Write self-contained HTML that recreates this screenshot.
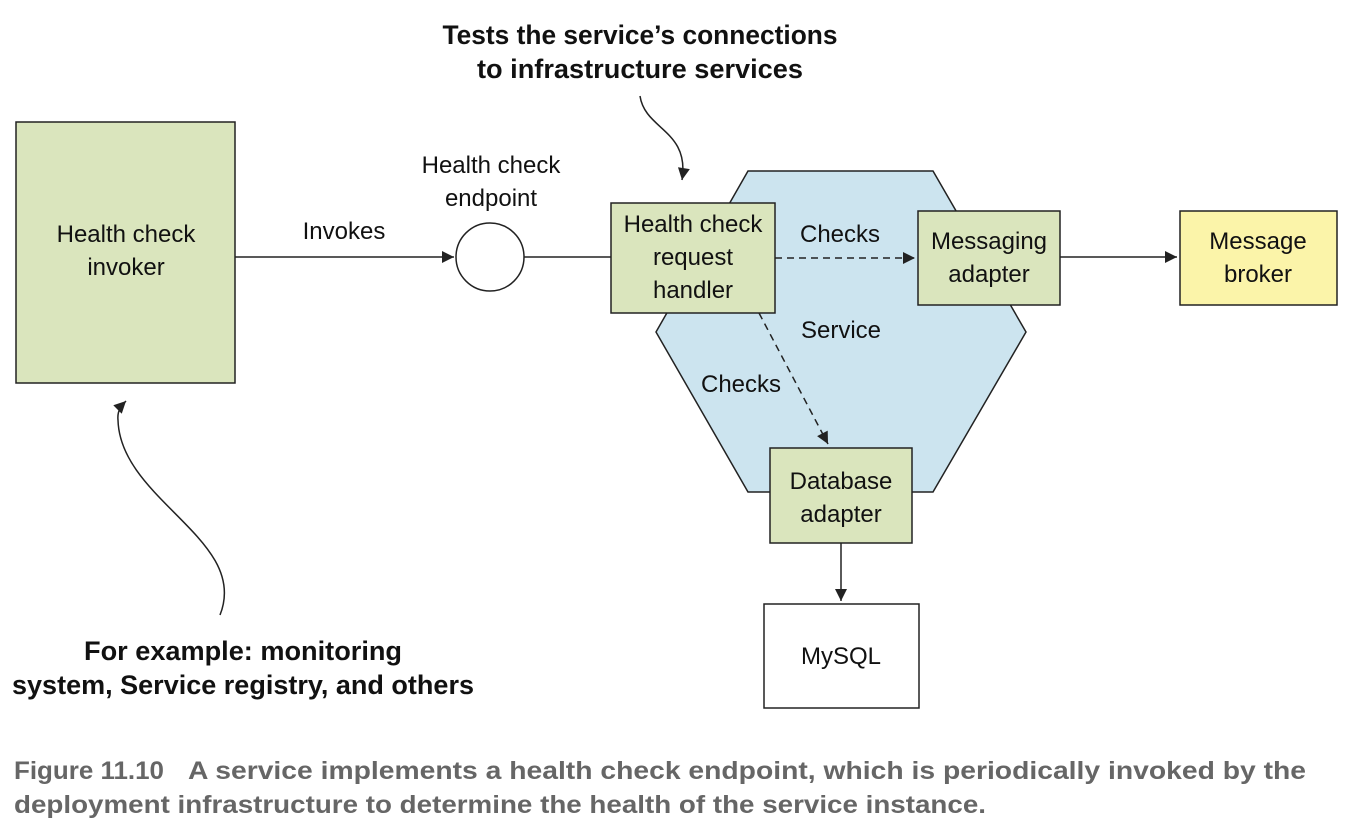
<!DOCTYPE html>
<html><head><style>body{margin:0;background:#fff}svg{display:block}</style></head><body>
<svg width="1354" height="832" viewBox="0 0 1354 832" xmlns="http://www.w3.org/2000/svg" font-family="Liberation Sans, Arial, sans-serif">
<defs>
<marker id="b" viewBox="0 0 10 10" refX="10" refY="5" markerWidth="18" markerHeight="12" markerUnits="userSpaceOnUse" orient="auto"><path d="M0,0 L10,5 L0,10 z" fill="#222"/></marker>
</defs>
<polygon points="748,171 933,171 1026,332 933,492 748,492 656,332" fill="#cce4ef" stroke="#222" stroke-width="1.5"/>
<g stroke="#222" stroke-width="1.5">
<rect x="16" y="122" width="219" height="261" fill="#dae5bd"/>
<rect x="611" y="203" width="164" height="110" fill="#dae5bd"/>
<rect x="918" y="211" width="142" height="94" fill="#dae5bd"/>
<rect x="1180" y="211" width="157" height="94" fill="#fbf4a9"/>
<rect x="770" y="448" width="142" height="95" fill="#dae5bd"/>
<rect x="764" y="604" width="155" height="104" fill="#fff"/>
<circle cx="490" cy="257" r="34" fill="#fff"/>
<line x1="235" y1="257" x2="454" y2="257" marker-end="url(#b)"/>
<line x1="524" y1="257" x2="611" y2="257"/>
<line x1="775" y1="258" x2="915" y2="258" stroke-dasharray="7,5" marker-end="url(#b)"/>
<line x1="759" y1="313" x2="828" y2="444" stroke-dasharray="7,5" marker-end="url(#b)"/>
<line x1="1060" y1="257" x2="1177" y2="257" marker-end="url(#b)"/>
<line x1="841" y1="543" x2="841" y2="601" marker-end="url(#b)"/>
<path d="M640,96 C645,130 690,130 682,180" fill="none" marker-end="url(#b)"/>
<path d="M220,615 C250,540 120,500 118,420 C117,410 122,405 126,401" fill="none" marker-end="url(#b)"/>
</g>
<g font-size="24" fill="#111" text-anchor="middle">
<text x="126" y="242">Health check</text><text x="126" y="275">invoker</text>
<text x="344" y="239">Invokes</text>
<text x="491" y="173">Health check</text><text x="491" y="206">endpoint</text>
<text x="693" y="232">Health check</text><text x="693" y="265">request</text><text x="693" y="298">handler</text>
<text x="840" y="242">Checks</text>
<text x="989" y="249">Messaging</text><text x="989" y="282">adapter</text>
<text x="1258" y="249">Message</text><text x="1258" y="282">broker</text>
<text x="841" y="338">Service</text>
<text x="741" y="392">Checks</text>
<text x="841" y="489">Database</text><text x="841" y="522">adapter</text>
<text x="841" y="664">MySQL</text>
</g>
<g font-size="27" font-weight="bold" fill="#111" text-anchor="middle">
<text x="640" y="44" textLength="395" lengthAdjust="spacingAndGlyphs">Tests the service’s connections</text>
<text x="640" y="78" textLength="326" lengthAdjust="spacingAndGlyphs">to infrastructure services</text>
<text x="243" y="660" textLength="318" lengthAdjust="spacingAndGlyphs">For example: monitoring</text>
<text x="243" y="694" textLength="462" lengthAdjust="spacingAndGlyphs">system, Service registry, and others</text>
</g>
<g font-size="25" font-weight="bold" fill="#666">
<text x="14" y="779" textLength="150" lengthAdjust="spacingAndGlyphs">Figure 11.10</text>
<text x="188" y="779" textLength="1118" lengthAdjust="spacingAndGlyphs">A service implements a health check endpoint, which is periodically invoked by the</text>
<text x="14" y="813" textLength="972" lengthAdjust="spacingAndGlyphs">deployment infrastructure to determine the health of the service instance.</text>
</g>
</svg>
</body></html>
